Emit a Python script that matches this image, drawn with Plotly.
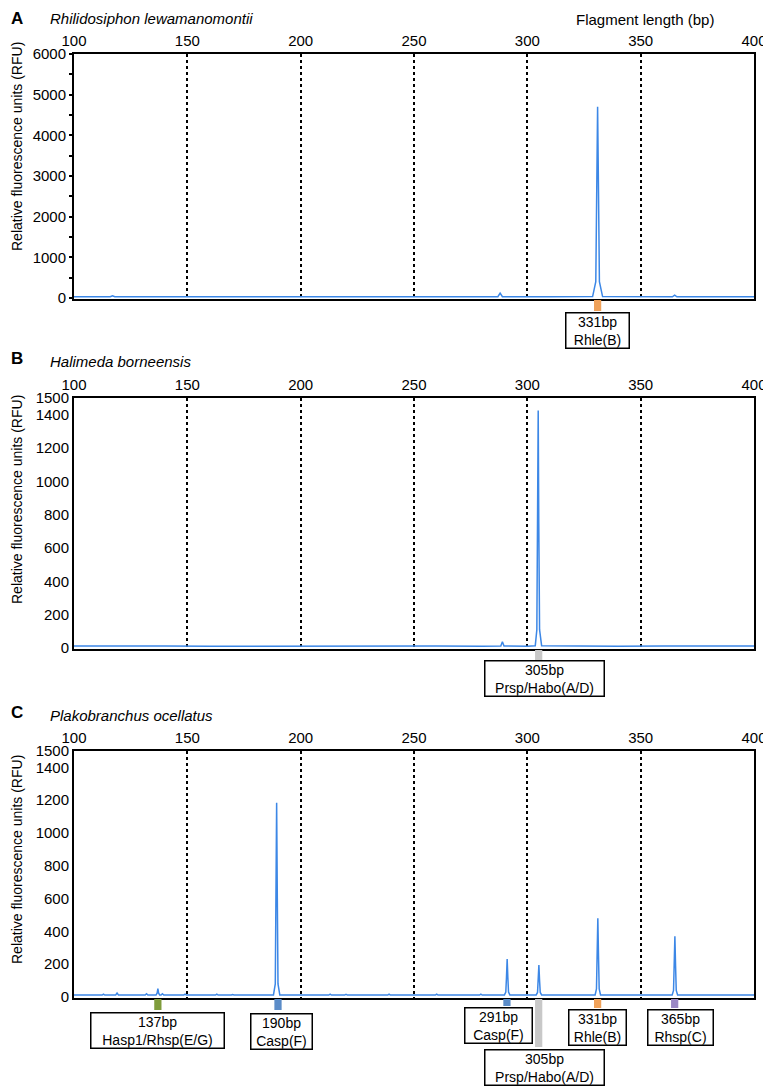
import plotly.graph_objects as go

# --- data ---
A_X = [100, 112, 116, 117, 118, 140, 170, 200, 230, 262, 263, 264, 280, 287, 288, 289, 310,
       328.8, 330.2, 330.6, 331, 331.4, 331.8, 333.2, 350, 364, 365, 366, 385, 400]
A_Y = [30, 28, 30, 55, 30, 28, 30, 28, 30, 30, 45, 30, 28, 30, 120, 30, 28,
       35, 400, 2600, 4700, 2600, 400, 35, 28, 30, 70, 30, 28, 30]

B_X = [100, 120, 140, 160, 180, 200, 220, 240, 260, 280, 288.3, 289, 289.7, 300,
       303.5, 304.2, 304.55, 304.8, 305.05, 305.4, 306.3, 320, 340, 360, 380, 400]
B_Y = [12, 10, 12, 11, 12, 10, 12, 11, 12, 11, 12, 38, 12, 11,
       14, 110, 750, 1425, 750, 110, 14, 12, 11, 12, 10, 12]

C_X = [100,
       112.4, 113, 113.6, 118.4, 119, 119.6, 131.4, 132, 132.6,
       136.2, 136.7, 137, 137.3, 137.8,
       138.4, 139, 139.6, 148.4, 149, 149.6, 158.4, 159, 159.6,
       162.4, 163, 163.6, 169.4, 170, 170.6, 178.4, 179, 179.6,
       188.0, 188.8, 189.1, 189.4, 189.7, 190.0, 190.8,
       212.4, 213, 213.6, 219.4, 220, 220.6, 238.4, 239, 239.6,
       259.4, 260, 260.6, 278.9, 279.5, 280.1,
       289.9, 290.5, 290.8, 291.1, 291.4, 291.7, 292.3,
       303.9, 304.5, 304.8, 305.1, 305.4, 305.7, 306.3,
       322.4, 323, 323.6,
       329.9, 330.5, 330.8, 331.1, 331.4, 331.7, 332.3,
       341.4, 342, 342.6,
       363.9, 364.5, 364.8, 365.1, 365.4, 365.7, 366.3,
       377.4, 378, 378.6,
       400]
C_Y = [12,
       12, 18, 12, 12, 24, 12, 12, 20, 12,
       12, 25, 52, 25, 12,
       12, 20, 12, 12, 18, 12, 12, 16, 12,
       12, 18, 12, 12, 15, 12, 12, 16, 12,
       13, 80, 600, 1185, 600, 80, 13,
       12, 17, 12, 12, 16, 12, 12, 18, 12,
       12, 18, 12, 12, 17, 12,
       13, 30, 120, 232, 120, 30, 13,
       13, 28, 100, 195, 100, 28, 13,
       12, 16, 12,
       13, 50, 250, 480, 250, 50, 13,
       12, 16, 12,
       13, 40, 190, 370, 190, 40, 13,
       12, 15, 12,
       12]

X_TICKS = [100, 150, 200, 250, 300, 350, 400]
A_YTICKS = [0, 1000, 2000, 3000, 4000, 5000, 6000]
BC_YTICKS = [0, 200, 400, 600, 800, 1000, 1200, 1400, 1500]

A_LABELS = [(331, "331bp<br>Rhle(B)", "#f0a25a")]
B_LABELS = [(305, "305bp<br>Prsp/Habo(A/D)", "#c8c8c8")]
C_LABELS = [(137, "137bp<br>Hasp1/Rhsp(E/G)", "#7f9c3c"),
            (190, "190bp<br>Casp(F)", "#5b8cc8"),
            (291, "291bp<br>Casp(F)", "#5b8cc8"),
            (305, "305bp<br>Prsp/Habo(A/D)", "#c8c8c8"),
            (331, "331bp<br>Rhle(B)", "#f0a25a"),
            (365, "365bp<br>Rhsp(C)", "#9a88c4")]

assert len(A_X) == len(A_Y) and len(B_X) == len(B_Y) and len(C_X) == len(C_Y)

# --- page geometry (pixels); the page body adds an 8px margin ---
OFF = 8
W, H = 771 - OFF, 1088 - OFF
FONT = "Arial, Liberation Sans, sans-serif"
TRACE = "#3c87e6"


def py(p):
    return 1 - (p - OFF) / H


def px(p):
    return (p - OFF) / W


X_DOM = [px(74), px(754)]
PANELS = [  # letter, species, top, bottom, x, y, yrange, ticks, title y
    ("A", "Rhilidosiphon lewamanomontii", 54, 299, A_X, A_Y, [-25, 6000], A_YTICKS, 147),
    ("B", "Halimeda borneensis", 398, 649, B_X, B_Y, [-6, 1500], BC_YTICKS, 500),
    ("C", "Plakobranchus ocellatus", 751, 998, C_X, C_Y, [-6, 1500], BC_YTICKS, 860),
]

fig = go.Figure()
annotations = []
shapes = []

for i, (letter, species, top, bot, xs, ys, yr, yt, ty) in enumerate(PANELS):
    n = "" if i == 0 else str(i + 1)
    fig.add_trace(go.Scatter(x=xs, y=ys, mode="lines", xaxis="x" + n, yaxis="y" + n,
                             line=dict(color=TRACE, width=1.5), showlegend=False,
                             hoverinfo="skip"))
    fig.update_layout(**{
        "xaxis" + n: dict(domain=X_DOM, anchor="y" + n, side="top", range=[100, 400],
                          tickvals=X_TICKS, ticks="", showline=True, mirror=True,
                          linecolor="black", linewidth=1.5, showgrid=True,
                          gridcolor="black", gridwidth=1.5, griddash="3px,3px",
                          zeroline=False, tickfont=dict(size=15, color="black"),
                          automargin=False, fixedrange=True),
        "yaxis" + n: dict(domain=[py(bot), py(top)], anchor="x" + n, range=yr,
                          tickvals=yt, ticks="outside" if i == 0 else "", ticklen=3,
                          tickwidth=1.5, tickcolor="black",
                          minor=dict(dtick=500, ticks="outside", ticklen=3,
                                     tickcolor="black") if i == 0 else None,
                          showline=True, mirror=True, linecolor="black", linewidth=2,
                          showgrid=False, zeroline=False,
                          tickfont=dict(size=15, color="black"),
                          automargin=False, fixedrange=True),
    })
    annotations.append(dict(x=px(10), y=py(top - 46 if i == 0 else top - 39),
                            xref="paper", yref="paper", text="<b>%s</b>" % letter,
                            showarrow=False, xanchor="left",
                            yanchor="top" if i == 0 else "middle", borderpad=0,
                            font=dict(size=17, color="black", family=FONT)))
    annotations.append(dict(x=px(48), y=py(top - 36), xref="paper", yref="paper",
                            text="<i>%s</i>" % species, showarrow=False, xanchor="left",
                            yanchor="middle", font=dict(size=15, color="black", family=FONT)))
    annotations.append(dict(x=px(17), y=py(ty), xref="paper", yref="paper",
                            text="Relative fluorescence units (RFU)", textangle=-90,
                            showarrow=False, xanchor="center", yanchor="middle",
                            font=dict(size=14, color="black", family=FONT)))

annotations.append(dict(x=px(645), y=py(20), xref="paper", yref="paper",
                        text="Flagment length (bp)", showarrow=False, xanchor="center",
                        yanchor="middle", font=dict(size=15, color="black", family=FONT)))

# peak labels: (axis, labels, marker top px, marker bottoms px, box centres px, widths, x shifts)
LABEL_SETS = [
    ("x", A_LABELS, 300, [311], [330], [62], [0]),
    ("x2", B_LABELS, 650, [661], [678.5], [118], [6]),
    ("x3", C_LABELS, 999, [1010, 1010, 1006, 1047, 1008, 1008],
     [1030.5, 1031, 1026, 1067, 1027, 1027], [132, 60, 66, 118, 56, 64],
     [0, 3, -8, 6, 0, 6]),
]
for xref, labels, m_top, m_bots, centres, widths, shifts in LABEL_SETS:
    for (pos, text, col), mb, cy, w, sh in zip(labels, m_bots, centres, widths, shifts):
        shapes.append(dict(type="rect", xref=xref, yref="paper", x0=pos - 1.6, x1=pos + 1.6,
                           y0=py(mb), y1=py(m_top), fillcolor=col, line=dict(width=0),
                           layer="above"))
        annotations.append(dict(x=pos, y=py(cy), xref=xref, yref="paper", text=text,
                                showarrow=False, xanchor="center", yanchor="middle",
                                xshift=sh, width=w, bgcolor="white", bordercolor="black",
                                borderwidth=1.5, borderpad=0,
                                font=dict(size=14, color="black", family=FONT)))

fig.update_layout(width=W, height=H, margin=dict(l=0, r=0, t=0, b=0),
                  paper_bgcolor="white", plot_bgcolor="white",
                  font=dict(family=FONT, color="black"),
                  annotations=annotations, shapes=shapes)

fig.write_html("out.html")
